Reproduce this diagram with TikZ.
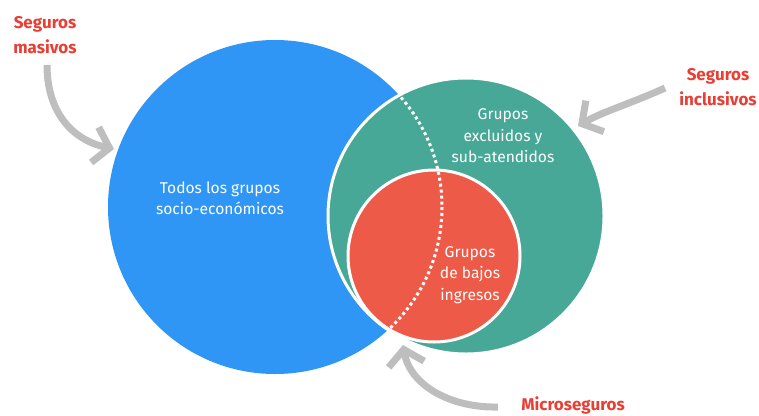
\documentclass[tikz,border=0pt]{standalone}
\usepackage{fontspec}
\setmainfont{Fira Sans}
\usetikzlibrary{arrows.meta}
\definecolor{cblue}{RGB}{48,150,245}
\definecolor{cgreen}{RGB}{72,168,152}
\definecolor{cred}{RGB}{238,90,72}
\definecolor{clabel}{RGB}{232,62,52}
\definecolor{carrow}{RGB}{190,190,190}
\tikzset{
  inner/.style={text=white,font=\fontsize{15.6}{21.5}\selectfont,align=center},
  outlabel/.style={text=clabel,font=\bfseries\fontsize{17}{24.5}\selectfont,align=center},
  bigarrow/.style={draw=carrow,line width=7pt,-{Straight Barb[length=15pt,width=36pt]}}
}
\begin{document}
\begin{tikzpicture}[x=1pt,y=-1pt]
\useasboundingbox (0,0) rectangle (759,415);
\fill[white] (0,0) rectangle (759,415);
% circles
\fill[cblue] (275,207) circle[radius=167];
\filldraw[fill=cgreen,draw=white,line width=3pt] (466,216) circle[radius=138];
\filldraw[fill=cred,draw=white,line width=3pt] (434,256) circle[radius=86];
\begin{scope}
  \clip (466,216) circle[radius=136.5];
  \draw[white,line width=3pt,dash pattern=on 3pt off 3pt] (275,207) circle[radius=167];
\end{scope}
% texts
\node[inner] (todos) at (220,198) {Todos los grupos\\socio-económicos};
\node[inner] (excl) at (503,136) {Grupos\\excluidos y\\sub-atendidos};
\node[inner] (bajos) at (470,275) {Grupos\\de bajos\\ingresos};
\node[outlabel] (masivos) at (45,35) {Seguros\\masivos};
\node[outlabel] (inclusivos) at (718,87) {Seguros\\inclusivos};
\node[outlabel] (micro) at (573,405) {Microseguros};
% arrow ends
\coordinate (a1s) at (47,65);
\coordinate (a1e) at (114,149);
\coordinate (a2s) at (665,88);
\coordinate (a2e) at (578,126);
\coordinate (a3s) at (498,407);
\coordinate (a3e) at (403,345);
\draw[bigarrow] (a1s) .. controls (47,112) and (72,140) .. (a1e);
\draw[bigarrow] (a2s) .. controls (632,103) and (602,112) .. (a2e);
\draw[bigarrow] (a3s) .. controls (450,408) and (410,385) .. (a3e);
\end{tikzpicture}
\end{document}
